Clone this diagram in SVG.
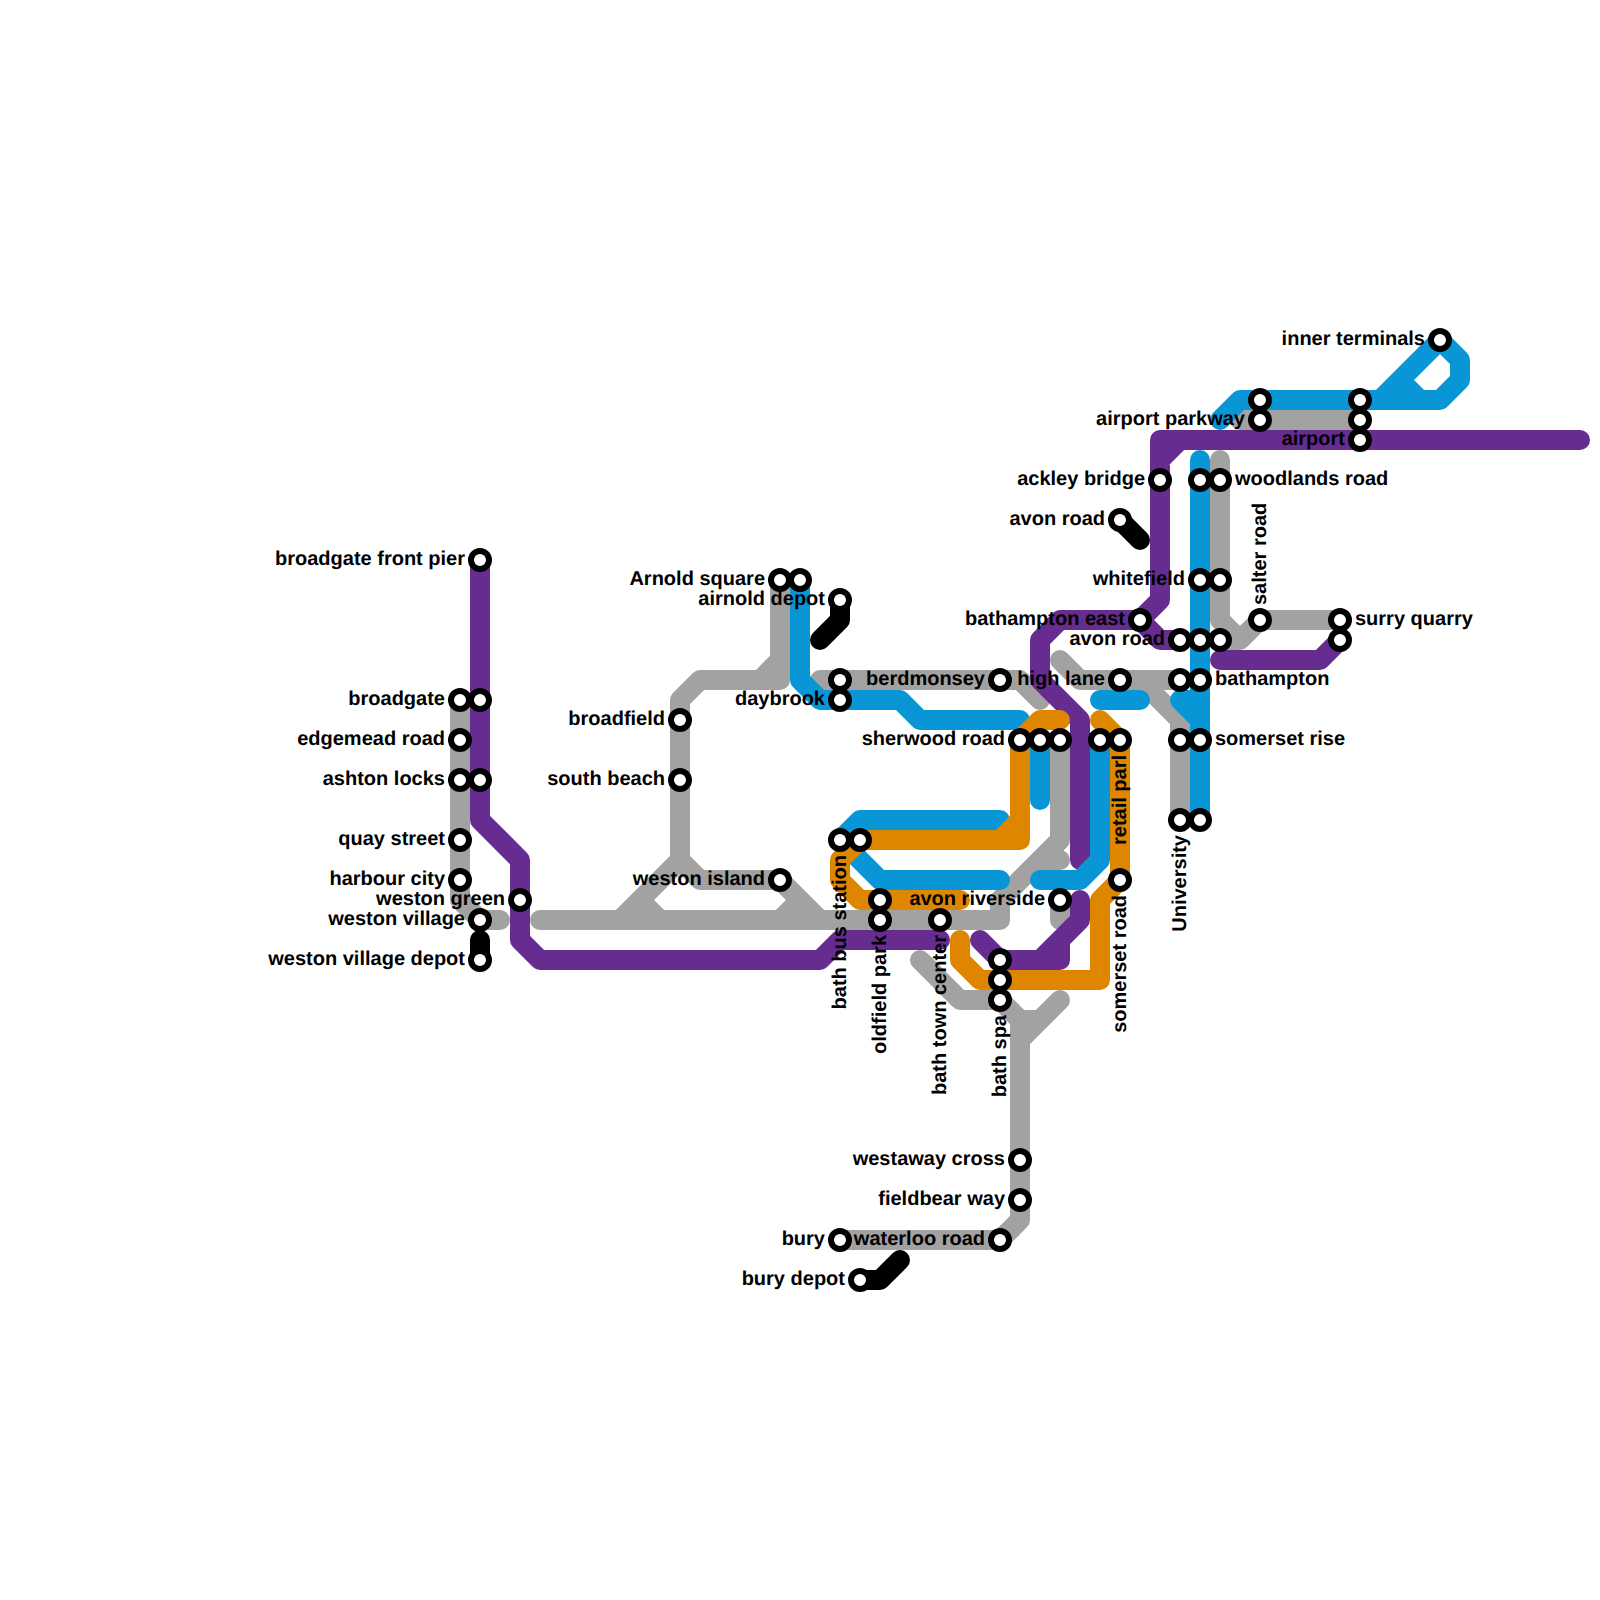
<svg xmlns="http://www.w3.org/2000/svg" width="1600" height="1600" viewBox="0 0 1600 1600">
<style>
.l{fill:none;stroke-width:20;stroke-linecap:round;stroke-linejoin:round}
.g{stroke:#a2a2a2}.p{stroke:#662c90}.b{stroke:#0896d7}.o{stroke:#df8600}.k{stroke:#000}
.s{fill:#fff;stroke:#000;stroke-width:6}
text{font-family:"Liberation Sans",Arial,sans-serif;font-weight:700;font-size:20px;fill:#000;text-rendering:geometricPrecision}
.e{text-anchor:end}
</style>
<rect width="1600" height="1600" fill="#fff"/>
<g id="connectors">
<path class="l g" d="M460 700V900L480 920H500M540 920H1000V900L1060 840V740M1060 860H1040L1000 900M780 580V680H700L680 700V860L620 920M760 680L780 660M640 900L660 920M680 860L700 880H780L820 920M800 900L780 920M820 680H1020L1040 700M1060 660L1080 680H1180M1140 680L1180 720V820M1220 460V620L1240 640M1220 640H1240L1260 620H1340M1240 420H1360M920 960L960 1000H1000L1020 1020V1220L1000 1240H840M1060 1000L1020 1040M1020 1020H1040M1060 900V920"/>
<path class="l p" d="M480 560V820L520 860V940L540 960H820L840 940H940M1580 440H1160V460M1180 440L1160 460V600L1140 620H1060L1040 640V680L1080 720V860M1140 620L1160 640H1180M1220 660H1320L1340 640M980 940L1000 960H1060V940L1080 920V900M1040 960L1060 940"/>
<path class="l b" d="M800 580V680L820 700H900L920 720H1020M1000 820H860L840 840L880 880H1000M1040 880H1080L1100 860V740M1040 740V800M1100 700H1140M1200 460V820M1180 700H1200M1180 700L1200 720M1220 420L1240 400H1440L1460 380V360L1440 340L1380 400M1400 380L1420 400"/>
<path class="l o" d="M1060 720H1040L1020 740V840H860L840 860V880L860 900H960M1000 840L1020 820M960 940V960L980 980H1100V900L1120 880V740L1100 720"/>
<path class="l k" d="M480 940V960M840 600V620L820 640M1120 520L1140 540M860 1280H880L900 1260"/>
</g>
<g id="stations">
<g id="n1"><text class="e" x="465" y="565">broadgate front pier</text><circle class="s" cx="480" cy="560" r="9"/></g>
<g id="n2"><text class="e" x="445" y="705">broadgate</text><circle class="s" cx="460" cy="700" r="9"/></g>
<g id="n3"><circle class="s" cx="480" cy="700" r="9"/></g>
<g id="n4"><text class="e" x="445" y="745">edgemead road</text><circle class="s" cx="460" cy="740" r="9"/></g>
<g id="n5"><text class="e" x="445" y="785">ashton locks</text><circle class="s" cx="460" cy="780" r="9"/></g>
<g id="n6"><circle class="s" cx="480" cy="780" r="9"/></g>
<g id="n7"><text class="e" x="445" y="845">quay street</text><circle class="s" cx="460" cy="840" r="9"/></g>
<g id="n8"><text class="e" x="445" y="885">harbour city</text><circle class="s" cx="460" cy="880" r="9"/></g>
<g id="n9"><text class="e" x="505" y="905">weston green</text><circle class="s" cx="520" cy="900" r="9"/></g>
<g id="n10"><text class="e" x="465" y="925">weston village</text><circle class="s" cx="480" cy="920" r="9"/></g>
<g id="n11"><text class="e" x="465" y="965">weston village depot</text><circle class="s" cx="480" cy="960" r="9"/></g>
<g id="n12"><text class="e" x="665" y="725">broadfield</text><circle class="s" cx="680" cy="720" r="9"/></g>
<g id="n13"><text class="e" x="665" y="785">south beach</text><circle class="s" cx="680" cy="780" r="9"/></g>
<g id="n14"><text class="e" x="765" y="885">weston island</text><circle class="s" cx="780" cy="880" r="9"/></g>
<g id="n15"><text class="e" x="765" y="585">Arnold square</text><circle class="s" cx="780" cy="580" r="9"/></g>
<g id="n16"><circle class="s" cx="800" cy="580" r="9"/></g>
<g id="n17"><text class="e" x="825" y="605">airnold depot</text><circle class="s" cx="840" cy="600" r="9"/></g>
<g id="n18"><circle class="s" cx="840" cy="680" r="9"/></g>
<g id="n19"><text class="e" x="825" y="705">daybrook</text><circle class="s" cx="840" cy="700" r="9"/></g>
<g id="n20"><text class="e" x="985" y="685">berdmonsey</text><circle class="s" cx="1000" cy="680" r="9"/></g>
<g id="n21"><text class="e" x="1105" y="685">high lane</text><circle class="s" cx="1120" cy="680" r="9"/></g>
<g id="n22"><text class="e" x="1005" y="745">sherwood road</text><circle class="s" cx="1020" cy="740" r="9"/></g>
<g id="n23"><circle class="s" cx="1040" cy="740" r="9"/></g>
<g id="n24"><circle class="s" cx="1060" cy="740" r="9"/></g>
<g id="n25"><circle class="s" cx="1100" cy="740" r="9"/></g>
<g id="n26"><text transform="translate(1125.5 845) rotate(-90)">retail parl</text><circle class="s" cx="1120" cy="740" r="9"/></g>
<g id="n27"><text class="e" transform="translate(845.5 855) rotate(-90)">bath bus station</text><circle class="s" cx="840" cy="840" r="9"/></g>
<g id="n28"><circle class="s" cx="860" cy="840" r="9"/></g>
<g id="n29"><circle class="s" cx="880" cy="900" r="9"/></g>
<g id="n30"><text class="e" transform="translate(885.5 935) rotate(-90)">oldfield park</text><circle class="s" cx="880" cy="920" r="9"/></g>
<g id="n31"><text class="e" transform="translate(945.5 935) rotate(-90)">bath town center</text><circle class="s" cx="940" cy="920" r="9"/></g>
<g id="n32"><circle class="s" cx="1000" cy="960" r="9"/></g>
<g id="n33"><circle class="s" cx="1000" cy="980" r="9"/></g>
<g id="n34"><text class="e" transform="translate(1005.5 1015) rotate(-90)">bath spa</text><circle class="s" cx="1000" cy="1000" r="9"/></g>
<g id="n35"><text class="e" x="1045" y="905">avon riverside</text><circle class="s" cx="1060" cy="900" r="9"/></g>
<g id="n36"><text class="e" transform="translate(1125.5 895) rotate(-90)">somerset road</text><circle class="s" cx="1120" cy="880" r="9"/></g>
<g id="n37"><text class="e" x="1125" y="625">bathampton east</text><circle class="s" cx="1140" cy="620" r="9"/></g>
<g id="n38"><text class="e" x="1165" y="645">avon road</text><circle class="s" cx="1180" cy="640" r="9"/></g>
<g id="n39"><circle class="s" cx="1200" cy="640" r="9"/></g>
<g id="n40"><circle class="s" cx="1220" cy="640" r="9"/></g>
<g id="n41"><circle class="s" cx="1180" cy="680" r="9"/></g>
<g id="n42"><text x="1215" y="685">bathampton</text><circle class="s" cx="1200" cy="680" r="9"/></g>
<g id="n43"><circle class="s" cx="1180" cy="740" r="9"/></g>
<g id="n44"><text x="1215" y="745">somerset rise</text><circle class="s" cx="1200" cy="740" r="9"/></g>
<g id="n45"><text class="e" transform="translate(1185.5 835) rotate(-90)">University</text><circle class="s" cx="1180" cy="820" r="9"/></g>
<g id="n46"><circle class="s" cx="1200" cy="820" r="9"/></g>
<g id="n47"><text class="e" x="1145" y="485">ackley bridge</text><circle class="s" cx="1160" cy="480" r="9"/></g>
<g id="n48"><circle class="s" cx="1200" cy="480" r="9"/></g>
<g id="n49"><text x="1235" y="485">woodlands road</text><circle class="s" cx="1220" cy="480" r="9"/></g>
<g id="n50"><text class="e" x="1105" y="525">avon road</text><circle class="s" cx="1120" cy="520" r="9"/></g>
<g id="n51"><text class="e" x="1185" y="585">whitefield</text><circle class="s" cx="1200" cy="580" r="9"/></g>
<g id="n52"><circle class="s" cx="1220" cy="580" r="9"/></g>
<g id="n53"><text transform="translate(1265.5 605) rotate(-90)">salter road</text><circle class="s" cx="1260" cy="620" r="9"/></g>
<g id="n54"><text x="1355" y="625">surry quarry</text><circle class="s" cx="1340" cy="620" r="9"/></g>
<g id="n55"><circle class="s" cx="1340" cy="640" r="9"/></g>
<g id="n56"><circle class="s" cx="1260" cy="400" r="9"/></g>
<g id="n57"><text class="e" x="1245" y="425">airport parkway</text><circle class="s" cx="1260" cy="420" r="9"/></g>
<g id="n58"><circle class="s" cx="1360" cy="400" r="9"/></g>
<g id="n59"><circle class="s" cx="1360" cy="420" r="9"/></g>
<g id="n60"><text class="e" x="1345" y="445">airport</text><circle class="s" cx="1360" cy="440" r="9"/></g>
<g id="n61"><text class="e" x="1425" y="345">inner terminals</text><circle class="s" cx="1440" cy="340" r="9"/></g>
<g id="n62"><text class="e" x="1005" y="1165">westaway cross</text><circle class="s" cx="1020" cy="1160" r="9"/></g>
<g id="n63"><text class="e" x="1005" y="1205">fieldbear way</text><circle class="s" cx="1020" cy="1200" r="9"/></g>
<g id="n64"><text class="e" x="825" y="1245">bury</text><circle class="s" cx="840" cy="1240" r="9"/></g>
<g id="n65"><text class="e" x="985" y="1245">waterloo road</text><circle class="s" cx="1000" cy="1240" r="9"/></g>
<g id="n66"><text class="e" x="845" y="1285">bury depot</text><circle class="s" cx="860" cy="1280" r="9"/></g>
</g>
</svg>
